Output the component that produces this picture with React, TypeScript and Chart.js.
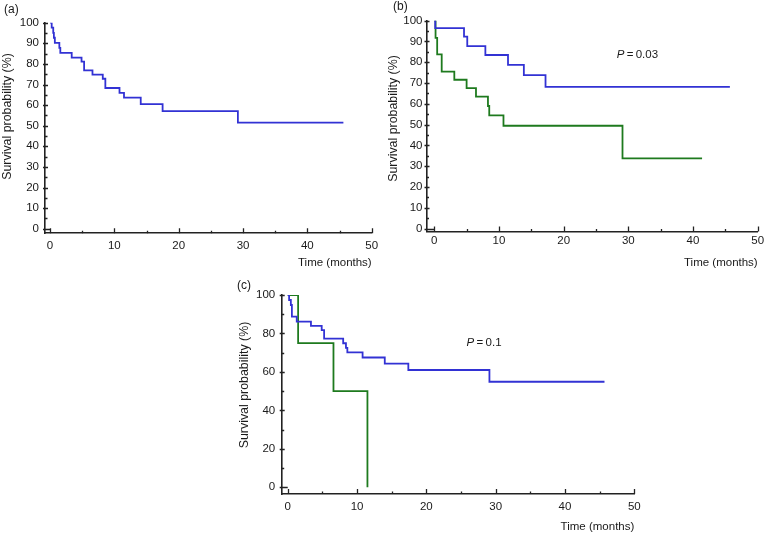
import React, { useEffect, useRef } from 'react';
import { Chart, registerables } from 'chart.js';

Chart.register(...registerables);

const FONT = '"Liberation Sans", Arial, Helvetica, sans-serif';
const BLUE = 'rgb(50,50,212)';
const GREEN = 'rgb(30,122,30)';
const INK = '#1a1a1a';
const AXIS = '#222222';

// Tick values
const X_TICKS = [0, 10, 20, 30, 40, 50];
const X_MINOR = [5, 15, 25, 35, 45];
const Y_TICKS_AB = [0, 10, 20, 30, 40, 50, 60, 70, 80, 90, 100];
const Y_MINOR_AB = [5, 15, 25, 35, 45, 55, 65, 75, 85, 95];
const Y_TICKS_C = [0, 20, 40, 60, 80, 100];
const Y_MINOR_C = [10, 30, 50, 70, 90];

const Y_TITLE = 'Survival probability (%)';
const X_TITLE = 'Time (months)';

// Panel (a): all patients
const A_TIME = [0, 0.26, 0.5, 0.6, 0.75, 1.45, 1.6, 3.37, 4.9, 5.3, 6.6, 8.2, 8.6, 10.8, 11.5, 14.1, 17.5, 29.2, 45.6];
const A_SURV = [100, 97.6, 95.1, 92.7, 90.2, 87.8, 85.4, 83.0, 81.1, 76.9, 74.8, 72.8, 68.3, 65.9, 63.6, 60.5, 57.1, 51.5, 51.5];

// Panel (b)
const B_BLUE_TIME = [0, 0.15, 4.6, 5.1, 7.9, 11.4, 13.85, 17.2, 45.7];
const B_BLUE_SURV = [100, 96.4, 92.3, 87.8, 83.5, 78.8, 73.8, 68.2, 68.2];
const B_GREEN_TIME = [0, 0.2, 0.45, 1.15, 3.1, 5.0, 6.45, 8.3, 8.5, 10.7, 29.1, 41.4];
const B_GREEN_SURV = [100, 91.7, 83.8, 75.5, 71.6, 67.6, 63.5, 59.0, 54.5, 49.5, 33.8, 33.8];

// Panel (c)
const C_BLUE_TIME = [0, 0.2, 0.45, 0.6, 1.3, 3.35, 4.9, 5.25, 8.0, 8.4, 8.6, 10.8, 14.0, 17.4, 29.1, 45.7];
const C_BLUE_SURV = [100, 97.4, 94.8, 88.8, 86.2, 83.9, 81.7, 77.3, 74.9, 72.5, 70.2, 67.5, 64.3, 61.0, 54.9, 54.9];
const C_GREEN_TIME = [0, 1.5, 6.6, 11.5];
const C_GREEN_SURV = [100, 75, 50, 0];

type Series = { t: number[]; s: number[]; color: string };
type Panel = {
  label: string;
  left: number; top: number; width: number; height: number;
  yWidth: number; xHeight: number; padTop: number; padRight: number;
  xMin: number; yMin: number;
  yTicks: number[]; yMinor: number[];
  yLabelPad: number; xLabelPad: number;
  labelPos: [number, number];
  yTitlePos: [number, number];
  p?: { rest: string; t: number; s: number };
  series: Series[];
};

const PANELS: Panel[] = [
  {
    label: '(a)', left: 0, top: 0, width: 380, height: 270,
    yWidth: 45, xHeight: 36.7, padTop: 22.7, padRight: 8.3,
    xMin: -0.78, yMin: -2.23, yTicks: Y_TICKS_AB, yMinor: Y_MINOR_AB,
    yLabelPad: 6, xLabelPad: 5.2, labelPos: [4, 9.5], yTitlePos: [7.5, 116.5],
    series: [{ t: A_TIME, s: A_SURV, color: BLUE }],
  },
  {
    label: '(b)', left: 380, top: 0, width: 385, height: 270,
    yWidth: 46.5, xHeight: 38.5, padTop: 20.7, padRight: 7.3,
    xMin: -1.2, yMin: -1.35, yTicks: Y_TICKS_AB, yMinor: Y_MINOR_AB,
    yLabelPad: 4, xLabelPad: 2.7, labelPos: [13, 7], yTitlePos: [14, 118.5],
    p: { rest: '\u2009=\u20090.03', t: 28.2, s: 83.5 },
    series: [
      { t: B_BLUE_TIME, s: B_BLUE_SURV, color: BLUE },
      { t: B_GREEN_TIME, s: B_GREEN_SURV, color: GREEN },
    ],
  },
  {
    label: '(c)', left: 220, top: 270, width: 430, height: 264,
    yWidth: 61.7, xHeight: 40, padTop: 25, padRight: 15.7,
    xMin: -0.87, yMin: -3.48, yTicks: Y_TICKS_C, yMinor: Y_MINOR_C,
    yLabelPad: 6.5, xLabelPad: 5.5, labelPos: [17, 15.5], yTitlePos: [24.3, 115],
    p: { rest: '\u2009=\u20090.1', t: 25.8, s: 75.2 },
    series: [
      { t: C_BLUE_TIME, s: C_BLUE_SURV, color: BLUE },
      { t: C_GREEN_TIME, s: C_GREEN_SURV, color: GREEN },
    ],
  },
];

function makeDecor(p: Panel) {
  return {
    id: 'decor',
    afterDraw(chart: any) {
      const ctx: CanvasRenderingContext2D = chart.ctx;
      const { left, bottom } = chart.chartArea;
      const xs = chart.scales.x;
      const ys = chart.scales.y;
      ctx.save();
      ctx.strokeStyle = AXIS;
      ctx.lineWidth = 1.3;
      ctx.beginPath();
      for (const v of X_TICKS) {
        const px = Math.round(xs.getPixelForValue(v)) + 0.5;
        ctx.moveTo(px, bottom);
        ctx.lineTo(px, bottom - 5);
      }
      for (const v of X_MINOR) {
        const px = Math.round(xs.getPixelForValue(v)) + 0.5;
        ctx.moveTo(px, bottom);
        ctx.lineTo(px, bottom - 2.5);
      }
      for (const v of p.yTicks) {
        const py = Math.round(ys.getPixelForValue(v)) + 0.5;
        ctx.moveTo(left - 2, py);
        ctx.lineTo(v === 0 ? xs.getPixelForValue(0) : left + 3, py);
      }
      for (const v of p.yMinor) {
        const py = Math.round(ys.getPixelForValue(v)) + 0.5;
        ctx.moveTo(left, py);
        ctx.lineTo(left + 2.5, py);
      }
      ctx.stroke();

      ctx.fillStyle = INK;
      ctx.textBaseline = 'middle';
      ctx.textAlign = 'left';
      ctx.font = `12px ${FONT}`;
      ctx.fillText(p.label, p.labelPos[0], p.labelPos[1]);

      ctx.save();
      ctx.translate(p.yTitlePos[0], p.yTitlePos[1]);
      ctx.rotate(-Math.PI / 2);
      ctx.textAlign = 'center';
      ctx.font = `12.4px ${FONT}`;
      ctx.fillText(Y_TITLE, 0, 0);
      ctx.restore();

      if (p.p) {
        const px = xs.getPixelForValue(p.p.t);
        const py = ys.getPixelForValue(p.p.s);
        ctx.font = `italic 11.5px ${FONT}`;
        ctx.fillText('P', px, py);
        const w = ctx.measureText('P').width;
        ctx.font = `11.5px ${FONT}`;
        ctx.fillText(p.p.rest, px + w, py);
      }
      ctx.restore();
    },
  };
}

function zeroPad(s: any) {
  s.paddingLeft = 0;
  s.paddingRight = 0;
  s.paddingTop = 0;
  s.paddingBottom = 0;
}

function PanelChart({ p }: { p: Panel }) {
  const ref = useRef<HTMLCanvasElement>(null);
  useEffect(() => {
    const canvas = ref.current;
    if (!canvas) return;
    const chart = new Chart(canvas, {
      type: 'line',
      data: {
        datasets: p.series.map((s) => ({
          data: s.t.map((t, i) => ({ x: t, y: s.s[i] })),
          borderColor: s.color,
          backgroundColor: s.color,
          borderWidth: 1.8,
          pointRadius: 0,
          stepped: 'before' as const,
          fill: false,
          tension: 0,
        })),
      },
      options: {
        responsive: false,
        animation: false,
        devicePixelRatio: 1,
        layout: { padding: { left: 0, top: p.padTop, right: p.padRight, bottom: 0 } },
        plugins: { legend: { display: false }, tooltip: { enabled: false } },
        scales: {
          x: {
            type: 'linear',
            min: p.xMin,
            max: 50,
            afterBuildTicks: (s: any) => { s.ticks = X_TICKS.map((v) => ({ value: v })); },
            afterFit: (s: any) => { s.height = p.xHeight; zeroPad(s); },
            grid: { display: false, drawTicks: false },
            border: { display: true, color: AXIS, width: 1.6 },
            ticks: {
              autoSkip: false, maxRotation: 0, padding: p.xLabelPad, color: INK,
              font: { family: FONT, size: 11.5 },
              callback: (v: any) => String(v),
            },
            title: {
              display: true, text: X_TITLE, align: 'end', color: INK,
              font: { family: FONT, size: 11.5 }, padding: { top: 0, bottom: 0 },
            },
          },
          y: {
            type: 'linear',
            min: p.yMin,
            max: 100,
            afterBuildTicks: (s: any) => { s.ticks = p.yTicks.map((v) => ({ value: v })); },
            afterFit: (s: any) => { s.width = p.yWidth; zeroPad(s); },
            grid: { display: false, drawTicks: false },
            border: { display: true, color: AXIS, width: 1.6 },
            ticks: {
              autoSkip: false, padding: p.yLabelPad, color: INK,
              font: { family: FONT, size: 11.5 },
              callback: (v: any) => String(v),
            },
          },
        },
      } as any,
      plugins: [makeDecor(p)],
    });
    return () => chart.destroy();
  }, [p]);
  return (
    <canvas
      ref={ref}
      width={p.width}
      height={p.height}
      style={{ position: 'absolute', left: p.left, top: p.top, width: p.width, height: p.height }}
    />
  );
}

export default function App() {
  return (
    <div style={{ position: 'absolute', left: 0, top: 0, width: 765, height: 534, background: '#fff', overflow: 'hidden' }}>
      {PANELS.map((p) => (
        <PanelChart key={p.label} p={p} />
      ))}
    </div>
  );
}
